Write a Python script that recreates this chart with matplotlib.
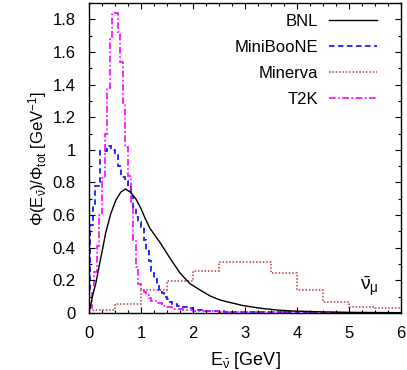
import numpy as np
import matplotlib
matplotlib.use("Agg")
import matplotlib.pyplot as plt
from matplotlib.ticker import MultipleLocator

plt.rcParams['font.family'] = ['Liberation Sans', 'DejaVu Sans']
plt.rcParams['mathtext.fontset'] = 'custom'
plt.rcParams['mathtext.rm'] = 'Liberation Sans'
plt.rcParams['mathtext.it'] = 'Liberation Sans'
plt.rcParams['mathtext.default'] = 'regular'

# BNL flux (smooth curve)
bnl_e = [0.0, 0.03, 0.065, 0.13, 0.19, 0.26, 0.32, 0.42, 0.515, 0.61, 0.70, 0.80,
         0.90, 1.00, 1.08, 1.17, 1.37, 1.56, 1.75, 1.94, 2.14, 2.33, 2.52, 2.65,
         2.97, 3.3, 3.62, 3.93, 4.5, 5.0, 6.0]
bnl_flux = [0.02, 0.04, 0.10, 0.18, 0.28, 0.39, 0.49, 0.61, 0.69, 0.74, 0.76, 0.74,
            0.70, 0.64, 0.58, 0.52, 0.43, 0.335, 0.245, 0.18, 0.14, 0.104, 0.08, 0.069,
            0.045, 0.029, 0.018, 0.012, 0.007, 0.004, 0.002]

# MiniBooNE histogram
mb_edges = [0, 0.02, 0.07, 0.12, 0.21, 0.34, 0.43, 0.50, 0.56, 0.62,
            0.69, 0.75, 0.80, 0.85, 0.90, 0.95, 1.00, 1.05, 1.10, 1.15,
            1.20, 1.25, 1.30, 1.35, 1.40, 1.45, 1.50, 1.55, 1.60, 1.70,
            1.80, 1.90, 2.00, 2.20, 2.40, 2.60, 3.00, 4.00, 6.00]
mb_flux = [0.15, 0.54, 0.67, 0.78, 0.99, 1.025, 1.00, 0.97, 0.90, 0.835,
           0.81, 0.77, 0.72, 0.65, 0.59, 0.56, 0.53, 0.45, 0.38, 0.32,
           0.26, 0.21, 0.17, 0.14, 0.12, 0.10, 0.085, 0.07, 0.055, 0.045,
           0.035, 0.028, 0.02, 0.014, 0.01, 0.007, 0.005, 0.003]

# Minerva histogram
mnv_edges = [0, 0.5, 1, 1.5, 2, 2.5, 3, 3.5, 4, 4.5, 5, 5.5, 6]
mnv_flux = [0.018, 0.053, 0.14, 0.197, 0.26, 0.314, 0.314, 0.245, 0.14, 0.069, 0.039, 0.029]

# T2K histogram
t2k_edges = [0, 0.05, 0.10, 0.15, 0.20, 0.25, 0.30, 0.35, 0.40, 0.45,
             0.55, 0.60, 0.65, 0.70, 0.75, 0.80, 0.85, 0.90, 0.95, 1.00,
             1.05, 1.10, 1.15, 1.20, 1.30, 1.40, 1.50, 1.60, 1.80, 2.00,
             2.50, 3.00, 4.00, 6.00]
t2k_flux = [0.03, 0.12, 0.25, 0.41, 0.60, 0.83, 1.10, 1.38, 1.68, 1.84,
            1.72, 1.54, 1.29, 1.02, 0.84, 0.68, 0.45, 0.28, 0.18, 0.15,
            0.13, 0.11, 0.095, 0.075, 0.06, 0.045, 0.035, 0.025, 0.018, 0.01,
            0.006, 0.004, 0.003]

fig = plt.figure(figsize=(4.07, 3.70), dpi=100)
ax = fig.add_axes([89/407, 57/370, 312/407, 310/370])

ax.plot(bnl_e, bnl_flux, color='black', lw=1.0, label='BNL')
ax.stairs(mb_flux, mb_edges, baseline=None, color='#1a1aff', lw=1.3,
          linestyle=(0, (3, 2)), label='MiniBooNE')
ax.stairs(mnv_flux, mnv_edges, baseline=None, color='#b23c3c', lw=1.1,
          linestyle=(0, (1, 1.2)), label='Minerva')
ax.stairs(t2k_flux, t2k_edges, baseline=None, color='#ff00ff', lw=1.2,
          linestyle=(0, (4, 1.5, 1, 1.5)), label='T2K')

ax.set_xlim(0, 6)
ax.set_ylim(0, 1.9)
ax.xaxis.set_major_locator(MultipleLocator(1))
ax.xaxis.set_minor_locator(MultipleLocator(0.25))
ax.yaxis.set_minor_locator(MultipleLocator(0.1))
ax.set_yticks([0, 0.2, 0.4, 0.6, 0.8, 1, 1.2, 1.4, 1.6, 1.8])
ax.set_yticklabels(['0', '0.2', '0.4', '0.6', '0.8', '1', '1.2', '1.4', '1.6', '1.8'])
ax.tick_params(which='both', direction='in', top=True, right=True, labelsize=12)
ax.tick_params(which='major', length=4.5, width=0.8, pad=9.5)
ax.tick_params(which='minor', length=2.5, width=0.8)
for s in ax.spines.values():
    s.set_linewidth(1.0)

ax.set_xlabel(r'$E_{\bar{\nu}}$ [GeV]', fontsize=13, labelpad=6)
ax.set_ylabel(r'$\Phi(E_{\bar{\nu}})/\Phi_{tot}$ [GeV$^{-1}$]', fontsize=12, labelpad=3)

ax.text(5.22, 0.14, r'$\bar{\nu}_{\mu}$', fontsize=14, ha='left', va='baseline')

ax.legend(loc='upper right', bbox_to_anchor=((377 - 89) / 312, 0.966),
          frameon=False, markerfirst=False, fontsize=12, handlelength=2.9,
          handletextpad=0.65, labelspacing=0.66, borderpad=0, borderaxespad=0)

plt.savefig('out.png', dpi=100)
